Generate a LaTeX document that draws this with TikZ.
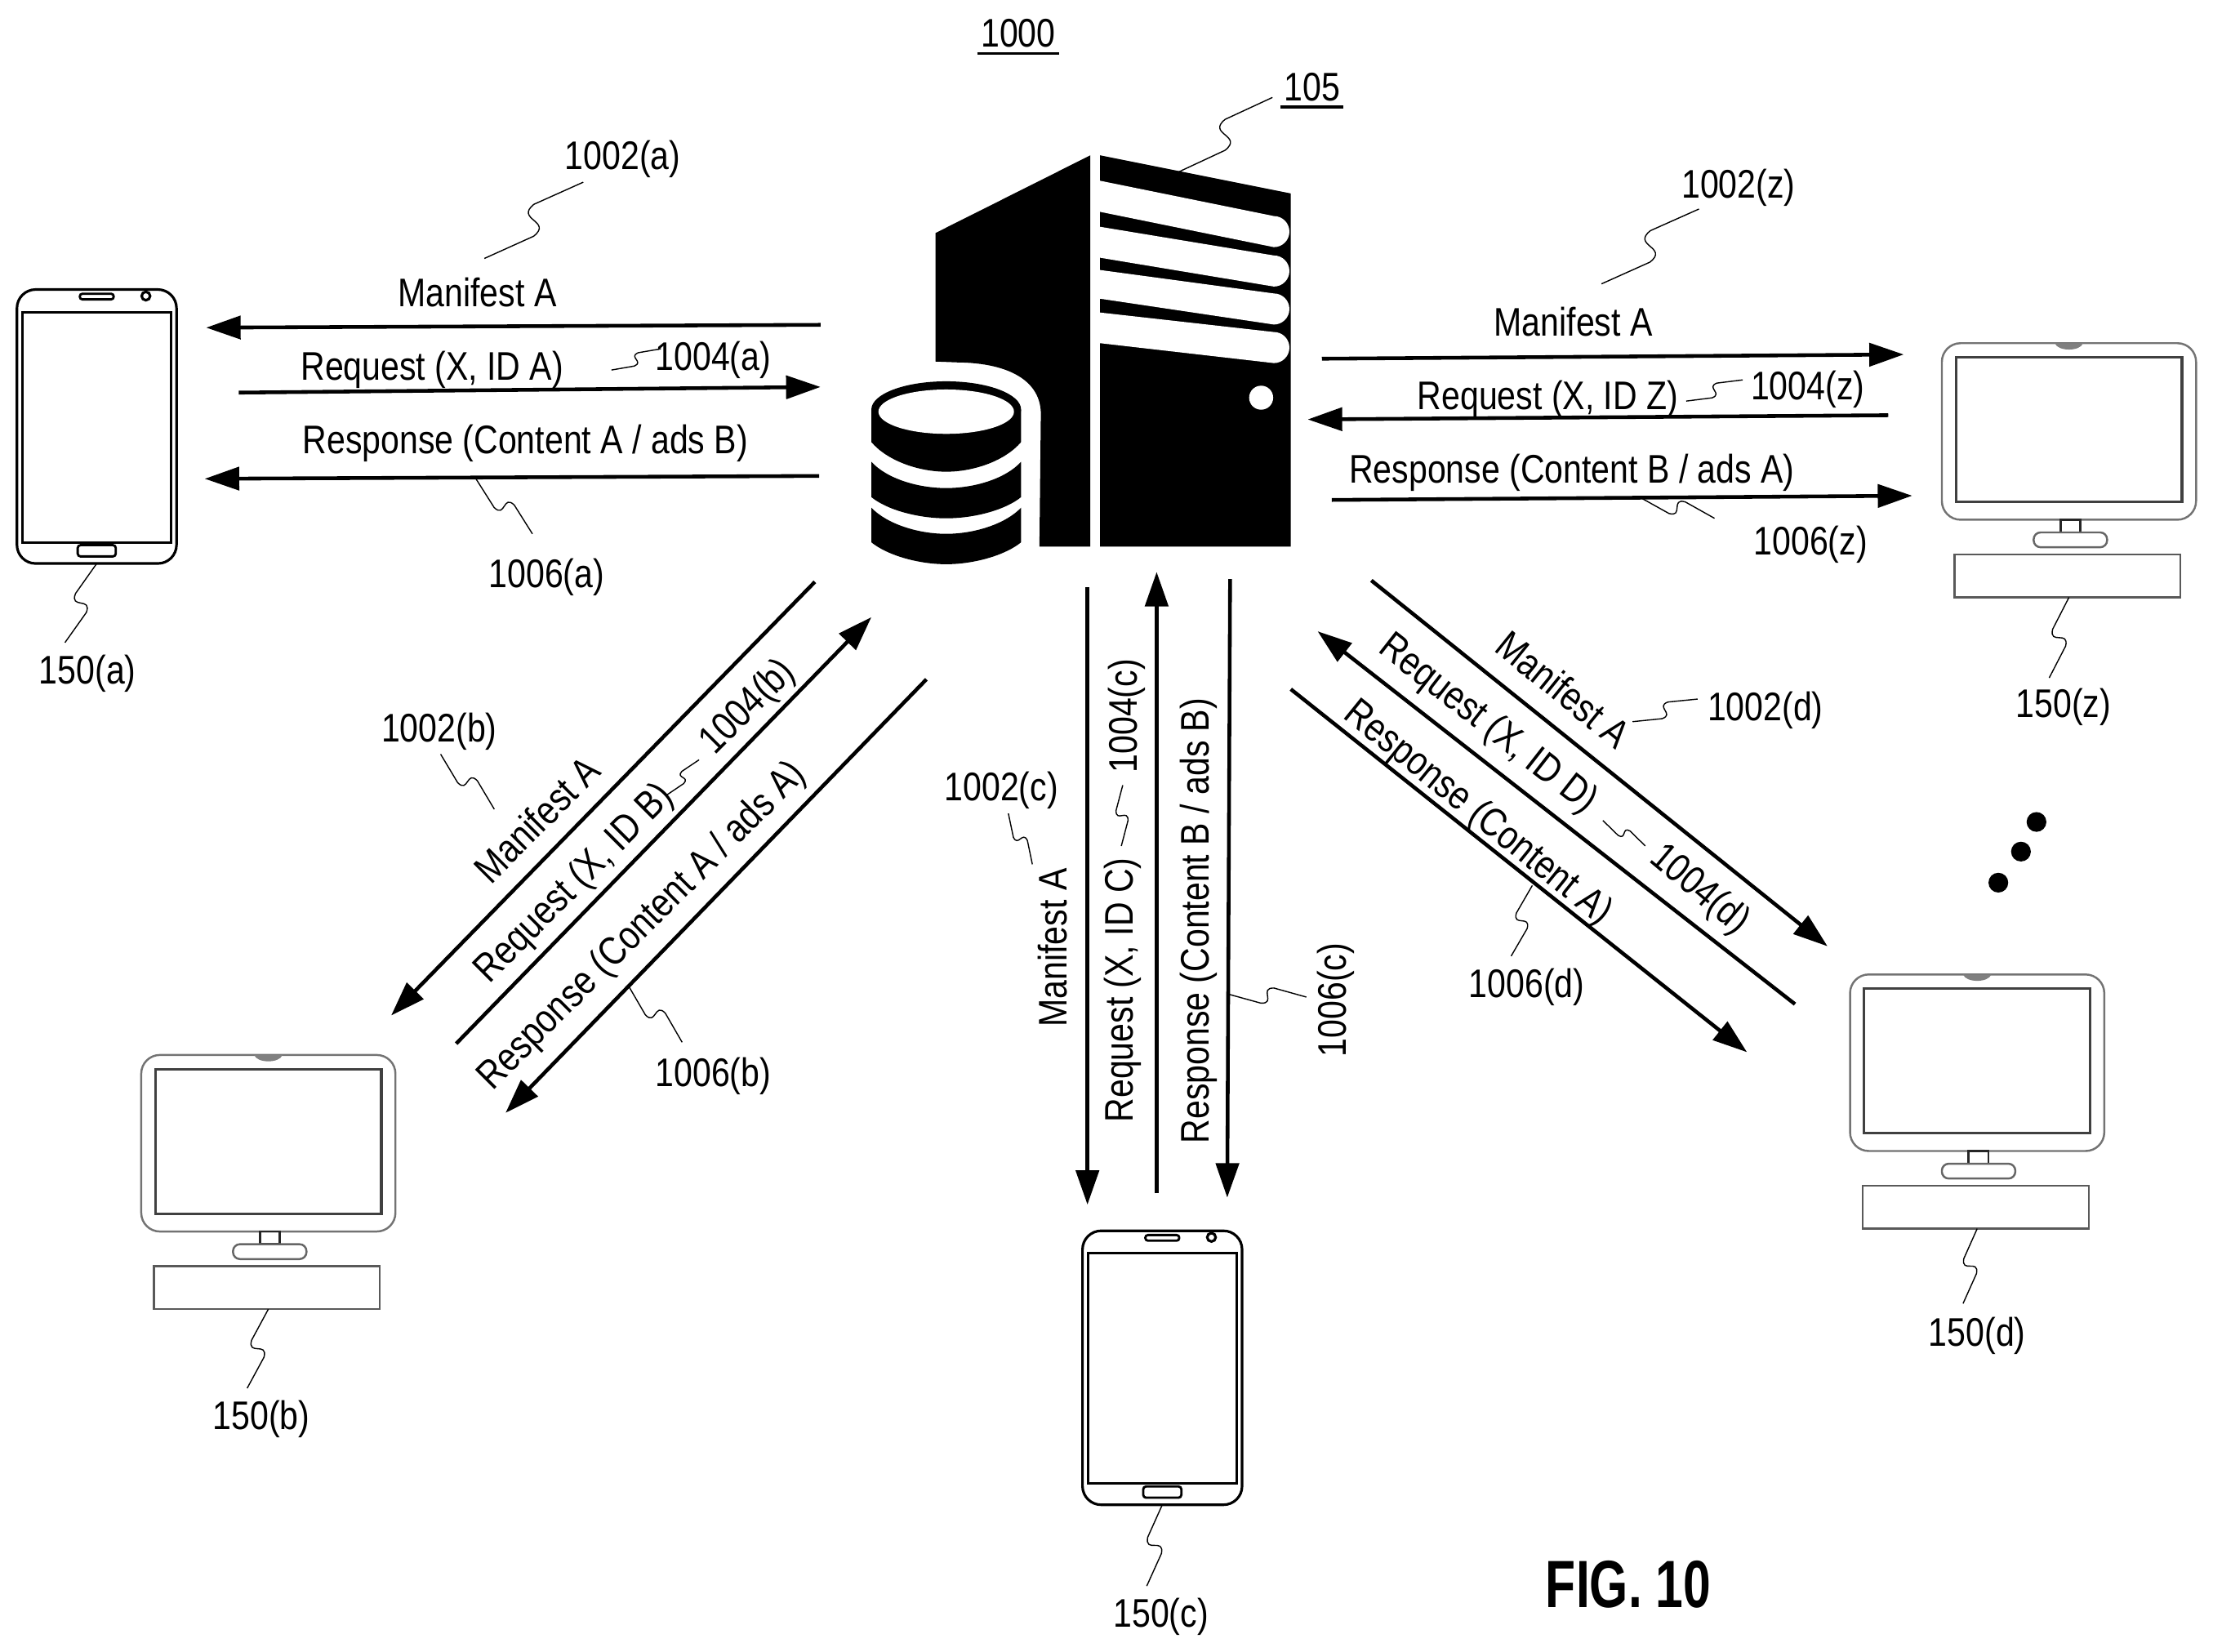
\documentclass[tikz,border=0pt]{standalone}
\usepackage{fontspec}
\setmainfont{Liberation Sans}[FakeStretch=0.84]
\newfontfamily\figfont{Liberation Sans Bold}[FakeStretch=0.74]
\usetikzlibrary{arrows.meta,calc}

\tikzset{
    lbl/.style={inner sep=0pt, text height=10pt, text depth=0pt, font=\fontsize{13.9}{15}\selectfont},
    flow/.style={line width=1.3pt, -{Triangle[length=12pt,width=8pt]}},
    leader/.style={line width=1.1pt, line join=round, to path={
        -- ($(\tikztostart)!.42!(\tikztotarget)!.172!-90:(\tikztotarget)$)
        .. controls ($(\tikztostart)!.62!(\tikztotarget)!.26!-90:(\tikztotarget)$)
        and ($(\tikztostart)!.38!(\tikztotarget)!.16!90:(\tikztotarget)$)
        .. ($(\tikztostart)!.58!(\tikztotarget)!.24!90:(\tikztotarget)$)
        -- (\tikztotarget)}},
    underlined/.style={line width=1pt, shorten <=-1.1pt, shorten >=-1.1pt},
    phone/.pic={
        \draw [line width=0.9pt, rounded corners=6.5pt] (-56.5,-97) rectangle (56.5,97);
        \draw [line width=0.9pt] (-52.5,-81) rectangle (52.5,82);
        \draw [line width=0.8pt, rounded corners=0.9pt] (-12,-94) rectangle (12,-90);
        \draw [line width=0.9pt] (34.8,-92.4) circle [radius=3];
        \draw [line width=0.8pt, rounded corners=1pt] (-13.5,84) rectangle (13.5,92);
        \coordinate (-foot) at (0,97);
    },
    monitor/.pic={
        \draw [line width=0.7pt, black!55, rounded corners=6.5pt] (-90,0) rectangle (90,125);
        \draw [line width=0.9pt, black!75] (-80,10) rectangle (80,112.5);
        \fill [black!50] (-10,0) .. controls (-8,6) and (8,6) .. (10,0) -- cycle;
        \draw [line width=0.8pt, black!85] (-6,125) rectangle (8,134);
        \draw [line width=0.7pt, black!60, rounded corners=2.4pt] (-25,134) rectangle (27,144.5);
        \draw [line width=0.7pt, black!65] (-81,149.5) rectangle (79,180);
        \coordinate (-foot) at (0,180);
    }
}

\begin{document}
\begin{tikzpicture}[x=0.017294cm, y=-0.017294cm]
    \useasboundingbox (0,0) rectangle (1567,1169.2);

    % server
    \fill (662.4,165) -- (772,110) -- (772,387) -- (736,387) -- (737,293)
        .. controls (737,270) and (715,257) .. (678,256.6) -- (662.4,256) -- cycle;
    \fill (779,110) -- (914,137) -- (914,387) -- (779,387) -- cycle;
    \fill [white] (779,128) -- (902,153) arc [start angle=-90, end angle=90, radius=11] -- (779,150) -- cycle;
    \fill [white] (779,160.6) -- (902,180.9) arc [start angle=-90, end angle=90, radius=11] -- (779,182.5) -- cycle;
    \fill [white] (779,191.2) -- (902,207.8) arc [start angle=-90, end angle=90, radius=11] -- (779,211.5) -- cycle;
    \fill [white] (779,221.3) -- (902,235.1) arc [start angle=-90, end angle=90, radius=11] -- (779,243) -- cycle;
    \fill [white] (893,281.6) circle [radius=8.5];

    % database
    \fill (670,290) ellipse [x radius=53, y radius=20];
    \fill (617,290) -- (617,313) .. controls (628,326) and (650,334) .. (670,334)
        .. controls (690,334) and (712,326) .. (723,313) -- (723,290) -- cycle;
    \fill [white] (670,291.5) ellipse [x radius=48, y radius=15.7];
    \fill (617,327) .. controls (628,339) and (650,345.6) .. (670,345.6)
        .. controls (690,345.6) and (712,339) .. (723,327) -- (723,352)
        .. controls (712,361) and (690,367) .. (670,367)
        .. controls (650,367) and (628,361) .. (617,352) -- cycle;
    \fill (617,359.5) .. controls (628,371) and (650,378) .. (670,378)
        .. controls (690,378) and (712,371) .. (723,359.5) -- (723,384)
        .. controls (712,393) and (690,399.5) .. (670,399.5)
        .. controls (650,399.5) and (628,393) .. (617,384) -- cycle;

    % devices
    \pic (phoneA) at (68.5,302) {phone};
    \pic (phoneC) at (823,968.5) {phone};
    \pic (monZ) at (1465,243) {monitor};
    \pic (monB) at (190,747) {monitor};
    \pic (monD) at (1400,690) {monitor};

    % dots
    \fill (1442,582) circle [radius=7];
    \fill (1431,603) circle [radius=7];
    \fill (1415,625) circle [radius=7];

    % flows to a
    \coordinate (aM1) at (581,230); \coordinate (aM2) at (146,232);
    \coordinate (aQ1) at (169,278); \coordinate (aQ2) at (581,274);
    \coordinate (aR1) at (580,337); \coordinate (aR2) at (145,339);
    \draw [flow] (aM1) -- (aM2);
    \draw [flow] (aQ1) -- (aQ2);
    \draw [flow] (aR1) -- (aR2);
    \node [lbl] (aMt) at (338,207) {Manifest A};
    \node [lbl] (aQt) at (306,259) {Request (X, ID A)};
    \node [lbl] (aRt) at (372,311) {Response (Content A / ads B)};

    % flows to z
    \coordinate (zM1) at (936,254); \coordinate (zM2) at (1348,251);
    \coordinate (zQ1) at (1337,294); \coordinate (zQ2) at (926,297);
    \coordinate (zR1) at (943,354); \coordinate (zR2) at (1354,351);
    \draw [flow] (zM1) -- (zM2);
    \draw [flow] (zQ1) -- (zQ2);
    \draw [flow] (zR1) -- (zR2);
    \node [lbl] (zMt) at (1114,228) {Manifest A};
    \node [lbl] (zQt) at (1096,280) {Request (X, ID Z)};
    \node [lbl] (zRt) at (1113,332) {Response (Content B / ads A)};

    % flows to b
    \coordinate (bM1) at (577,412); \coordinate (bM2) at (277,719);
    \coordinate (bQ1) at (323,739); \coordinate (bQ2) at (617,437);
    \coordinate (bR1) at (656,481); \coordinate (bR2) at (358,788);
    \draw [flow] (bM1) -- (bM2);
    \draw [flow] (bQ1) -- (bQ2);
    \draw [flow] (bR1) -- (bR2);
    \node [lbl, rotate=45] (bMt) at (380,580) {Manifest A};
    \node [lbl, rotate=45] (bQt) at (405,624) {Request (X, ID B)};
    \node [lbl, rotate=45] (bRt) at (453,654) {Response (Content A / ads A)};

    % flows to c
    \coordinate (cM1) at (770,416); \coordinate (cM2) at (770,853);
    \coordinate (cQ1) at (819,845); \coordinate (cQ2) at (819,405);
    \coordinate (cR1) at (871,410); \coordinate (cR2) at (869,848);
    \draw [flow] (cM1) -- (cM2);
    \draw [flow] (cQ1) -- (cQ2);
    \draw [flow] (cR1) -- (cR2);
    \node [lbl, rotate=90] (cMt) at (745,671) {Manifest A};
    \node [lbl, rotate=90] (cQt) at (792,701) {Request (X, ID C)};
    \node [lbl, rotate=90] (cRt) at (846,652) {Response (Content B / ads B)};

    % flows to d
    \coordinate (dM1) at (971,411); \coordinate (dM2) at (1294,670);
    \coordinate (dQ1) at (1271,711); \coordinate (dQ2) at (933,447);
    \coordinate (dR1) at (914,488); \coordinate (dR2) at (1237,745);
    \draw [flow] (dM1) -- (dM2);
    \draw [flow] (dQ1) -- (dQ2);
    \draw [flow] (dR1) -- (dR2);
    \node [lbl, rotate=-39] (dMt) at (1107,488) {Manifest A};
    \node [lbl, rotate=-38] (dQt) at (1055,511) {Request (X, ID D)};
    \node [lbl, rotate=-39] (dRt) at (1048,574) {Response (Content A)};

    % reference numerals
    \node [lbl] (fig) at (721,23) {1000};
    \draw [underlined] ([yshift=-2.1pt]fig.south west) -- ([yshift=-2.1pt]fig.south east);
    \node [lbl] (srv) at (929,61) {105};
    \draw [underlined] ([yshift=-2.1pt]srv.south west) -- ([yshift=-2.1pt]srv.south east);
    \node [lbl] (n1002a) at (441,110) {1002(a)};
    \node [lbl] (n1004a) at (505,252) {1004(a)};
    \node [lbl] (n1006a) at (387,406) {1006(a)};
    \node [lbl] (n150a) at (62,474) {150(a)};
    \node [lbl] (n1002z) at (1231,130) {1002(z)};
    \node [lbl] (n1004z) at (1280,273) {1004(z)};
    \node [lbl] (n1006z) at (1282,383) {1006(z)};
    \node [lbl] (n150z) at (1461,498) {150(z)};
    \node [lbl] (n1002b) at (311,515) {1002(b)};
    \node [lbl, rotate=45] (n1004b) at (528,499) {1004(b)};
    \node [lbl] (n1006b) at (505,759) {1006(b)};
    \node [lbl] (n150b) at (185,1002) {150(b)};
    \node [lbl] (n1002c) at (709,557) {1002(c)};
    \node [lbl, rotate=90] (n1004c) at (795,507) {1004(c)};
    \node [lbl, rotate=90] (n1006c) at (943,708) {1006(c)};
    \node [lbl] (n150c) at (822,1142) {150(c)};
    \node [lbl] (n1002d) at (1250,500) {1002(d)};
    \node [lbl, rotate=-40] (n1004d) at (1205,628) {1004(d)};
    \node [lbl] (n1006d) at (1081,696) {1006(d)};
    \node [lbl] (n150d) at (1400,943) {150(d)};
    \node [inner sep=0pt, font=\figfont\fontsize{23.3}{25}\selectfont] (figname) at (1153,1122) {FIG. 10};

    % leaders
    \coordinate (l105a) at (834,122); \coordinate (l105b) at (901,69);
    \draw (l105a) to [leader] (l105b);
    \coordinate (l2aa) at (343,183); \coordinate (l2ab) at (413,129);
    \draw (l2aa) to [leader] (l2ab);
    \coordinate (l4aa) at (433,262); \coordinate (l4ab) at (468,247);
    \draw (l4aa) to [leader] (l4ab);
    \coordinate (l6aa) at (337,339); \coordinate (l6ab) at (377,378);
    \draw (l6aa) to [leader] (l6ab);
    \coordinate (l0a) at (46,455);
    \draw (phoneA-foot) to [leader] (l0a);
    \coordinate (l2za) at (1134,201); \coordinate (l2zb) at (1203,148);
    \draw (l2za) to [leader] (l2zb);
    \coordinate (l4za) at (1194,284); \coordinate (l4zb) at (1234,269);
    \draw (l4za) to [leader] (l4zb);
    \coordinate (l6za) at (1161,352); \coordinate (l6zb) at (1214,367);
    \draw (l6za) to [leader] (l6zb);
    \coordinate (l0z) at (1451,480);
    \draw (monZ-foot) to [leader] (l0z);
    \coordinate (l2ba) at (312,534); \coordinate (l2bb) at (350,573);
    \draw (l2ba) to [leader] (l2bb);
    \coordinate (l4ba) at (472,563); \coordinate (l4bb) at (495,538);
    \draw (l4ba) to [leader] (l4bb);
    \coordinate (l6ba) at (445,698); \coordinate (l6bb) at (483,738);
    \draw (l6ba) to [leader] (l6bb);
    \coordinate (l0b) at (175,983);
    \draw (monB-foot) to [leader] (l0b);
    \coordinate (l2ca) at (714,576); \coordinate (l2cb) at (731,612);
    \draw (l2ca) to [leader] (l2cb);
    \coordinate (l4ca) at (794,599); \coordinate (l4cb) at (795,556);
    \draw (l4ca) to [leader] (l4cb);
    \coordinate (l6ca) at (870,704); \coordinate (l6cb) at (925,706);
    \draw (l6ca) to [leader] (l6cb);
    \coordinate (l0c) at (812,1123);
    \draw (phoneC-foot) to [leader] (l0c);
    \coordinate (l2da) at (1156,511); \coordinate (l2db) at (1202,495);
    \draw (l2da) to [leader] (l2db);
    \coordinate (l4da) at (1135,581); \coordinate (l4db) at (1165,599);
    \draw (l4da) to [leader] (l4db);
    \coordinate (l6da) at (1085,627); \coordinate (l6db) at (1070,677);
    \draw (l6da) to [leader] (l6db);
    \coordinate (l0d) at (1390,923);
    \draw (monD-foot) to [leader] (l0d);
\end{tikzpicture}
\end{document}
